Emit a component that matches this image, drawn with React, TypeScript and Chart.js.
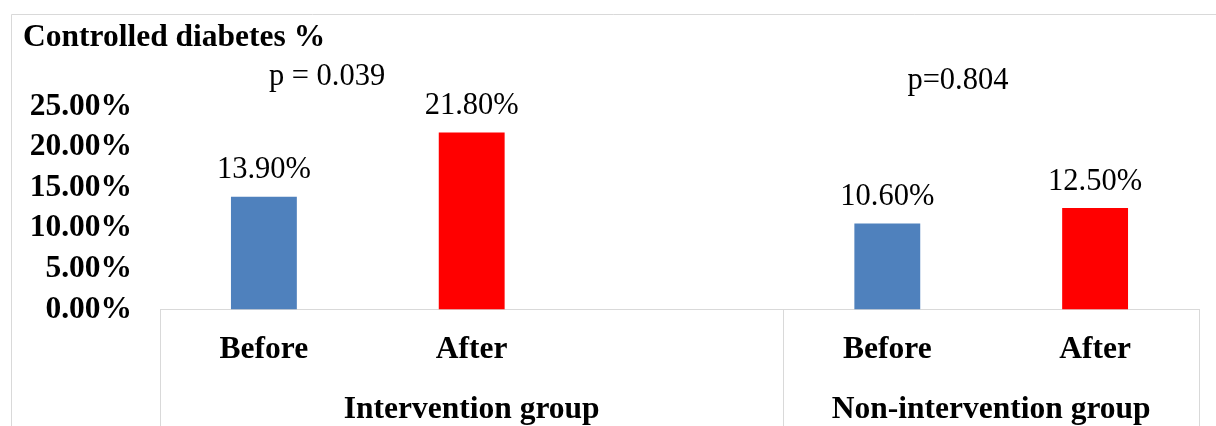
import React, { useEffect, useRef } from "react";
import { Chart, registerables } from "chart.js";

Chart.register(...registerables);

// ---- data ----
const categories = ["Before", "After", "", "Before", "After"];
const values: (number | null)[] = [13.9, 21.8, null, 10.6, 12.5];
const barColors = ["#4F81BD", "#FF0000", "#FFFFFF", "#4F81BD", "#FF0000"];
const groupLabels = ["Intervention group", "Non-intervention group"];
const groupRanges = [
  [0, 2],
  [3, 4],
];
const yMin = 0;
const yMax = 25;
const yStep = 5;
const chartTitle = "Controlled diabetes %";
const pValueTexts = ["p = 0.039", "p=0.804"];
// anchors in axis units (category index, y value) for the p-value notes
const pValueAnchors = [
  [0.304, 27.67],
  [3.34, 27.17],
];

const FONT = "'Liberation Serif', 'Times New Roman', serif";
const BOLD_SIZE = 31.5;
const REG_SIZE = 30.5;
const FRAME = "#D9D9D9";

const decorPlugin = {
  id: "decor",
  beforeDraw(chart: any) {
    const ctx = chart.ctx;
    ctx.save();
    ctx.fillStyle = "#FFFFFF";
    ctx.fillRect(0, 0, chart.width, chart.height);
    ctx.strokeStyle = FRAME;
    ctx.lineWidth = 1;
    ctx.beginPath();
    ctx.moveTo(11.5, chart.height);
    ctx.lineTo(11.5, 14.5);
    ctx.lineTo(chart.width, 14.5);
    ctx.stroke();
    ctx.restore();
  },
  afterDatasetsDraw(chart: any) {
    const ctx = chart.ctx;
    const meta = chart.getDatasetMeta(0);
    ctx.save();
    ctx.fillStyle = "#000000";
    ctx.font = `${REG_SIZE}px ${FONT}`;
    ctx.textAlign = "center";
    ctx.textBaseline = "alphabetic";
    meta.data.forEach((bar: any, i: number) => {
      const v = values[i];
      if (v === null || v === undefined) return;
      ctx.fillText(v.toFixed(2) + "%", bar.x, bar.y - 18.5);
    });
    ctx.restore();
  },
  afterDraw(chart: any) {
    const ctx = chart.ctx;
    const xs = chart.scales.x;
    const ys = chart.scales.y;
    const half = (xs.getPixelForValue(1) - xs.getPixelForValue(0)) / 2;
    ctx.save();
    ctx.strokeStyle = FRAME;
    ctx.lineWidth = 1;
    const bounds: number[] = [];
    groupRanges.forEach(([a, b]) => {
      const l = Math.round(xs.getPixelForValue(a) - half) + 0.5;
      const r = Math.round(xs.getPixelForValue(b) + half) + 0.5;
      if (!bounds.some((p) => Math.abs(p - l) < 2)) bounds.push(l);
      if (!bounds.some((p) => Math.abs(p - r) < 2)) bounds.push(r);
    });
    ctx.beginPath();
    bounds.forEach((bx) => {
      ctx.moveTo(bx, xs.top);
      ctx.lineTo(bx, xs.bottom);
    });
    ctx.stroke();

    ctx.fillStyle = "#000000";
    ctx.font = `bold ${BOLD_SIZE}px ${FONT}`;
    ctx.textAlign = "center";
    ctx.textBaseline = "alphabetic";
    groupRanges.forEach(([a, b], i) => {
      const cx = (xs.getPixelForValue(a) - half + xs.getPixelForValue(b) + half) / 2;
      ctx.fillText(groupLabels[i], cx, xs.top + 108.5);
    });

    ctx.font = `${REG_SIZE}px ${FONT}`;
    pValueTexts.forEach((t, i) => {
      const [vx, vy] = pValueAnchors[i];
      ctx.fillText(t, xs.getPixelForValue(vx), ys.getPixelForValue(vy));
    });
    ctx.restore();
  },
};

export default function App() {
  const ref = useRef<HTMLCanvasElement | null>(null);

  useEffect(() => {
    document.body.style.margin = "0";
    if (!ref.current) return;
    const chart = new Chart(ref.current, {
      type: "bar",
      data: {
        labels: categories,
        datasets: [
          {
            data: values as any,
            backgroundColor: barColors,
            borderWidth: 0,
            categoryPercentage: 1,
            barPercentage: 0.317,
          },
        ],
      },
      options: {
        animation: false,
        responsive: false,
        devicePixelRatio: 1,
        layout: { padding: { left: 23, top: 19, right: 17, bottom: 0 } },
        plugins: {
          legend: { display: false },
          tooltip: { enabled: false },
          title: {
            display: true,
            text: chartTitle,
            align: "start",
            color: "#000000",
            font: { family: FONT, size: BOLD_SIZE, weight: "bold", lineHeight: 1.2 },
            padding: { top: 0, bottom: 49.8 },
          },
        },
        scales: {
          x: {
            grid: { display: false, drawTicks: false },
            border: { display: true, color: FRAME, width: 1 },
            ticks: {
              color: "#000000",
              font: { family: FONT, size: BOLD_SIZE, weight: "bold" },
              padding: 21,
              maxRotation: 0,
              autoSkip: false,
            },
            afterFit: (s: any) => {
              s.height = 116.5;
            },
          },
          y: {
            min: yMin,
            max: yMax,
            grid: { display: false, drawTicks: false },
            border: { display: false },
            ticks: {
              stepSize: yStep,
              autoSkip: false,
              color: "#000000",
              font: { family: FONT, size: BOLD_SIZE, weight: "bold" },
              padding: 28,
              callback: (v: any) => Number(v).toFixed(2) + "%",
            },
            afterFit: (s: any) => {
              s.width = 137;
            },
          },
        },
      },
      plugins: [decorPlugin],
    });
    return () => chart.destroy();
  }, []);

  return (
    <div style={{ width: 1216, height: 426 }}>
      <canvas ref={ref} width={1216} height={426} style={{ display: "block" }} />
    </div>
  );
}
